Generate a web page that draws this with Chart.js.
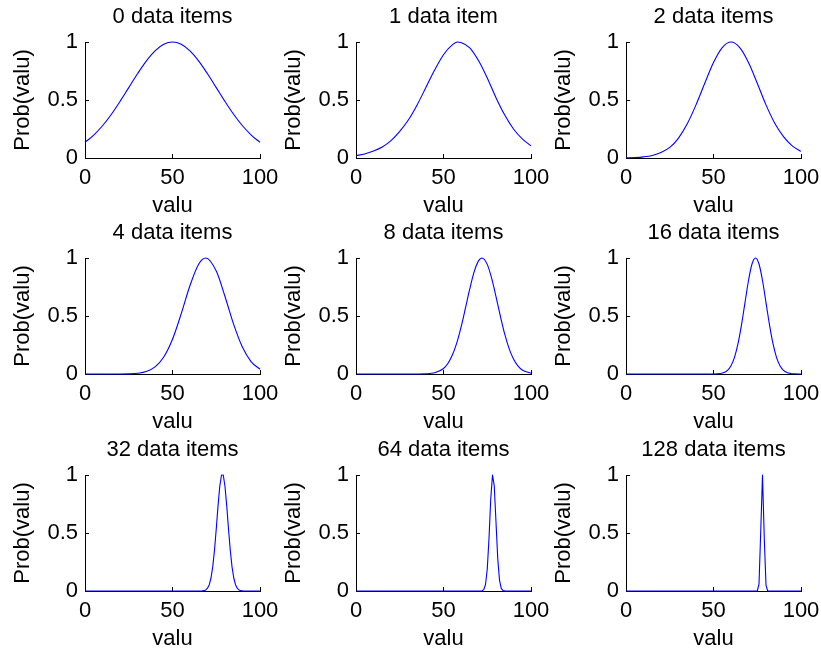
<!DOCTYPE html>
<html>
<head>
<meta charset="utf-8">
<script src="https://cdn.jsdelivr.net/npm/chart.js@4.4.1/dist/chart.umd.min.js"></script>
<style>
  html, body { margin: 0; padding: 0; background: #fff; overflow: hidden; }
  body { width: 821px; height: 651px; position: relative; }
  canvas { position: absolute; }
</style>
</head>
<body>
<script>
const titles = ["0 data items", "1 data item", "2 data items", "4 data items", "8 data items",
                "16 data items", "32 data items", "64 data items", "128 data items"];

const valu0 = [0, 5, 10, 15, 20, 25, 30, 35, 40, 45, 50, 55, 60, 65, 70, 75, 80, 85, 90, 95, 100];
const prob0 = [0.135, 0.198, 0.278, 0.375, 0.487, 0.607, 0.726, 0.835, 0.923, 0.980, 1.000,
               0.980, 0.923, 0.835, 0.726, 0.607, 0.487, 0.375, 0.278, 0.198, 0.135];

const valu1 = [0, 5, 10, 15, 20, 25, 30, 35, 40, 45, 50, 55, 58, 60, 65, 70, 75, 80, 85, 90, 95, 100];
const prob1 = [0.02, 0.035, 0.06, 0.095, 0.15, 0.23, 0.33, 0.46, 0.61, 0.76, 0.89, 0.975, 1.0,
               0.995, 0.95, 0.84, 0.69, 0.52, 0.37, 0.25, 0.165, 0.105];

const valu2 = [0, 5, 10, 15, 20, 25, 30, 35, 40, 45, 50, 55, 60, 65, 70, 75, 80, 85, 90, 95, 100];
const prob2 = [0.002, 0.004, 0.01, 0.022, 0.047, 0.091, 0.172, 0.295, 0.458, 0.644, 0.823, 0.952,
               1.0, 0.952, 0.823, 0.644, 0.458, 0.30, 0.185, 0.105, 0.057];

const valu3 = [0, 10, 20, 25, 30, 35, 40, 45, 50, 55, 60, 65, 69, 75, 80, 85, 90, 95, 100];
const prob3 = [0, 0, 0, 0.001, 0.006, 0.021, 0.061, 0.147, 0.300, 0.520, 0.763, 0.948, 1.0,
               0.887, 0.668, 0.426, 0.230, 0.105, 0.041];

const valu4 = [0, 10, 20, 30, 40, 45, 50, 52.5, 55, 57.5, 60, 62.5, 65, 67.5, 70, 72, 75, 77.5,
               80, 82.5, 85, 87.5, 90, 92.5, 95, 100];
const prob4 = [0, 0, 0, 0, 0.002, 0.010, 0.047, 0.090, 0.161, 0.264, 0.402, 0.565, 0.733, 0.880,
               0.975, 1.0, 0.945, 0.826, 0.667, 0.498, 0.343, 0.219, 0.129, 0.070, 0.035, 0.007];

const valu5 = [0, 20, 40, 50, 54, 56, 58, 60, 62, 64, 66, 68, 70, 72, 74, 76, 78, 80, 82, 84, 86,
               88, 90, 92, 94, 96, 100];
const prob5 = [0, 0, 0, 0, 0.004, 0.013, 0.032, 0.072, 0.144, 0.261, 0.423, 0.616, 0.806, 0.948,
               1.0, 0.948, 0.806, 0.616, 0.423, 0.261, 0.144, 0.072, 0.032, 0.013, 0.005, 0.002, 0];

const valu6 = [0, 20, 40, 60, 66, 67, 68, 69, 70, 71, 72, 73, 74, 75, 76, 77, 78, 79, 80, 81, 82,
               83, 84, 85, 86, 87, 88, 89, 90, 91, 100];
const prob6 = [0, 0, 0, 0, 0, 0.001, 0.003, 0.009, 0.024, 0.054, 0.112, 0.210, 0.353, 0.535, 0.732,
               0.901, 1.0, 1.0, 0.901, 0.732, 0.535, 0.353, 0.210, 0.112, 0.054, 0.024, 0.009,
               0.003, 0.001, 0, 0];

const valu7 = [0, 20, 40, 60, 70, 71, 72, 73, 74, 75, 76, 77, 78, 79, 80, 81, 82, 83, 84, 85, 86, 100];
const prob7 = [0, 0, 0, 0, 0, 0, 0.002, 0.012, 0.056, 0.188, 0.455, 0.795, 1.0, 0.906, 0.592,
               0.278, 0.094, 0.023, 0.004, 0.001, 0, 0];

const valu8 = [0, 20, 40, 60, 70, 75, 76, 77, 78, 79, 80, 81, 90, 100];
const prob8 = [0, 0, 0, 0, 0, 0, 0.06, 0.52, 1.0, 0.46, 0.05, 0, 0, 0];

const xTicks = [0, 50, 100];
const yTicks = [0, 0.5, 1];
const xLabel = "valu";
const yLabel = "Prob(valu)";

// [x values, y values, smooth curve?]
const panels = [
  [valu0, prob0, true], [valu1, prob1, true], [valu2, prob2, true],
  [valu3, prob3, true], [valu4, prob4, true], [valu5, prob5, true],
  [valu6, prob6, false], [valu7, prob7, false], [valu8, prob8, false],
];

const colLeft = [85, 356, 626];
const rowTop = [42, 258, 475];
const AREA_W = 175, AREA_H = 116;
const AXIS_W = 85, TITLE_H = 42, XAXIS_H = 61, PAD_R = 30;

Chart.defaults.font.family = "'Liberation Sans', Arial, sans-serif";
Chart.defaults.font.size = 22;
Chart.defaults.color = "#000";
Chart.defaults.animation = false;

panels.forEach(([xs, ys, smooth], i) => {
  const canvas = document.createElement("canvas");
  canvas.width = AXIS_W + AREA_W + PAD_R;
  canvas.height = TITLE_H + AREA_H + XAXIS_H;
  canvas.style.left = (colLeft[i % 3] - AXIS_W) + "px";
  canvas.style.top = (rowTop[Math.floor(i / 3)] - TITLE_H) + "px";
  document.body.appendChild(canvas);

  new Chart(canvas, {
    type: "line",
    data: {
      datasets: [{
        data: xs.map((x, k) => ({ x: x, y: ys[k] })),
        borderColor: "#0000ff",
        borderWidth: 1.1,
        borderJoinStyle: "round",
        pointRadius: 0,
        fill: false,
        cubicInterpolationMode: smooth ? "monotone" : "default",
        tension: 0,
        clip: false,
      }],
    },
    options: {
      responsive: false,
      layout: { padding: { left: 0, top: 0, right: PAD_R, bottom: 0 } },
      plugins: {
        legend: { display: false },
        tooltip: { enabled: false },
        title: {
          display: true,
          fullSize: false,
          text: titles[i],
          color: "#000",
          font: { size: 22, weight: "normal" },
          padding: { top: 4, bottom: TITLE_H - 26.4 - 4 },
        },
      },
      scales: {
        x: {
          type: "linear",
          min: 0,
          max: 100,
          afterBuildTicks: s => { s.ticks = xTicks.map(v => ({ value: v })); },
          afterFit: s => { s.height = XAXIS_H; },
          ticks: { padding: 10.5, maxRotation: 0, callback: v => String(v) },
          grid: { display: true, drawOnChartArea: false, drawTicks: true, tickLength: -4, color: "#000" },
          border: { display: true, color: "#000", width: 1 },
          title: { display: true, text: xLabel, padding: { top: 0, bottom: 0 } },
        },
        y: {
          type: "linear",
          min: 0,
          max: 1,
          afterBuildTicks: s => { s.ticks = yTicks.map(v => ({ value: v })); },
          afterFit: s => { s.width = AXIS_W; },
          ticks: { padding: 11, callback: v => String(v) },
          grid: { display: true, drawOnChartArea: false, drawTicks: true, tickLength: -4, color: "#000" },
          border: { display: true, color: "#000", width: 1 },
          title: { display: true, text: yLabel, padding: { top: 9.5, bottom: 0 } },
        },
      },
    },
  });
});
</script>
</body>
</html>
